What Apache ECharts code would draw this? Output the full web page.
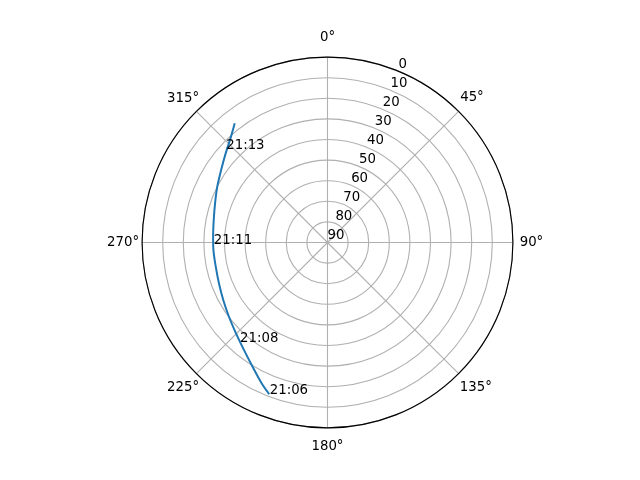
<!DOCTYPE html>
<html><head><meta charset="utf-8">
<script src="https://cdn.jsdelivr.net/npm/echarts@6/dist/echarts.min.js"></script>
<style>html,body{margin:0;padding:0;background:#fff}#c{width:640px;height:480px}</style>
</head><body><div id="c"></div>
<script>
// Satellite pass: elevation (deg, radius axis: 0 outer, 90 centre) vs azimuth (deg, clockwise from N)
const elevation = [11.1, 14.6, 19.6, 23.9, 27.4, 30.1, 32.2, 33.7, 34.5, 34.5, 34.4, 33.7, 32.2, 30.0, 27.5, 24.3, 20.5, 16.7];
const azimuth   = [201.0, 205.1, 211.1, 217.8, 225.2, 233.0, 241.1, 249.4, 257.8, 266.2, 272.9, 281.2, 289.2, 296.9, 304.3, 311.2, 317.6, 322.1];
const timeLabels = ['21:06', '21:08', '21:11', '21:13'];
const timeElevation = [11.1, 25.2, 34.55, 23.0];
const timeAzimuth = [201.0, 221.2, 269.2, 312.5];
const angleTickStep = 45;
const radiusTickStep = 10;

const FONT = 'DejaVu Sans';
const FS = 13.3;
const center = [327.5, 242.5];
const R = 185.4;

// per-label padding [top, right, bottom, left] to centre the angle labels like matplotlib
const anglePad = {
  0: [0, 0, 16.75, 0], 45: [0, 0, 9.9, 4.4], 90: [0, 0, 0, 10.8], 135: [10.3, 0, 0, 4.1],
  180: [15.75, 0, 0, 0], 225: [10.3, 0.2, 0, 0], 270: [0, 7.0, 0, 0], 315: [0, 0.2, 9.6, 0]
};
const rich = {};
Object.keys(anglePad).forEach(k => {
  rich['a' + k] = { padding: anglePad[k], fontFamily: FONT, fontSize: FS, color: '#000' };
});

const lineData = elevation.map((e, i) => [e, azimuth[i]]);
const markData = timeLabels.map((t, k) => ({ name: t, value: [timeElevation[k], timeAzimuth[k]] }));

const chart = echarts.init(document.getElementById('c'), null, { renderer: 'canvas' });
chart.setOption({
  animation: false,
  backgroundColor: '#fff',
  textStyle: { fontFamily: FONT, fontSize: FS, color: '#000' },
  polar: [
    { center: center, radius: R },
    { center: center, radius: R }
  ],
  angleAxis: [
    {
      polarIndex: 0, type: 'value', min: 0, max: 360, interval: angleTickStep,
      startAngle: 90, clockwise: true,
      axisLine: { show: true, lineStyle: { color: '#000', width: 1.1 } },
      axisTick: { show: false },
      axisLabel: { show: true, margin: -4, fontFamily: FONT, fontSize: FS, color: '#000',
        formatter: v => (v >= 360 ? '' : '{a' + v + '|' + v + '°}'), rich: rich },
      splitLine: { show: true, lineStyle: { color: '#b0b0b0', width: 1.1 } }
    },
    {
      polarIndex: 1, type: 'value', min: 0, max: 360, startAngle: 67.5, clockwise: true,
      show: false
    }
  ],
  radiusAxis: [
    {
      polarIndex: 0, type: 'value', min: 0, max: 90, interval: radiusTickStep, inverse: true,
      axisLine: { show: false }, axisTick: { show: false }, axisLabel: { show: false },
      splitLine: { show: true, lineStyle: { color: '#b0b0b0', width: 1.1 } }
    },
    {
      polarIndex: 1, type: 'value', min: 0, max: 90, interval: radiusTickStep, inverse: true,
      axisLine: { show: false }, axisTick: { show: false }, splitLine: { show: false },
      axisLabel: { show: true, fontFamily: FONT, fontSize: FS, color: '#000', margin: 0,
        align: 'left', verticalAlign: 'bottom', showMinLabel: true, showMaxLabel: true }
    }
  ],
  series: [
    {
      type: 'line', coordinateSystem: 'polar', polarIndex: 0,
      data: lineData, showSymbol: false, symbol: 'none', smooth: 0.3,
      lineStyle: { color: '#1f77b4', width: 2 }, z: 3
    },
    {
      type: 'scatter', coordinateSystem: 'polar', polarIndex: 0,
      data: markData, symbolSize: 1, itemStyle: { color: 'transparent', opacity: 1 }, z: 4,
      label: { show: true, position: 'right', distance: 0, offset: [0, -4],
        formatter: p => p.name, fontFamily: FONT, fontSize: FS, color: '#000' }
    }
  ]
});
</script>
</body></html>
